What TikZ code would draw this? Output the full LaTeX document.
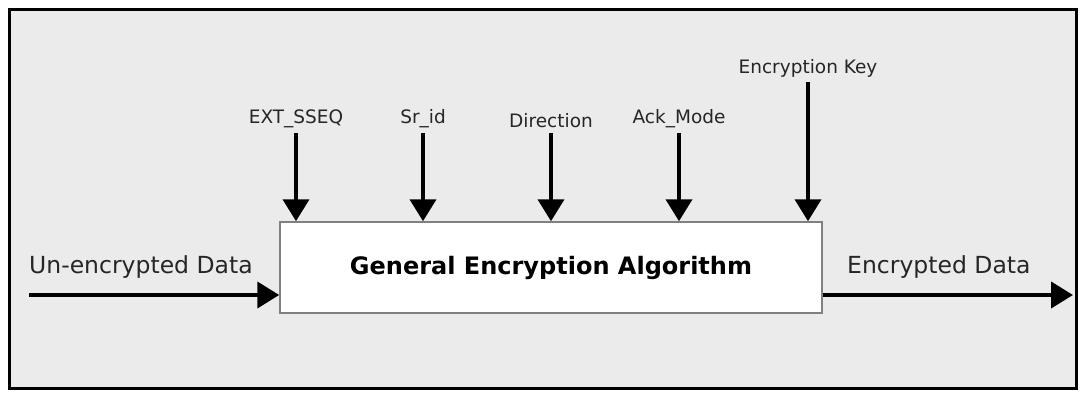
\documentclass[tikz,border=0pt]{standalone}
\usepackage{fontspec}
\setmainfont{DejaVu Sans}
\usetikzlibrary{arrows.meta}
\definecolor{bg}{HTML}{EBEBEB}
\definecolor{boxline}{HTML}{808080}
\begin{document}
\begin{tikzpicture}[x=1pt,y=-1pt,
  lbl/.style={inner sep=0pt,font=\fontsize{18.5}{21}\selectfont,text=black!85},
  side/.style={inner sep=0pt,anchor=west,font=\fontsize{23.5}{27}\selectfont,text=black!85},
  arr/.style={line width=4pt,-{Triangle[length=22pt,width=26pt]}},
  algbox/.style={draw=boxline,line width=1.5pt,fill=white,minimum width=542pt,minimum height=91pt,inner sep=0pt,font=\bfseries\fontsize{24}{28}\selectfont}]
\useasboundingbox (0,0) rectangle (1083,393);
\fill[white] (0,0) rectangle (1083,393);
\draw[line width=3pt,fill=bg] (9,10) rectangle (1076,388);
\node[algbox] (box) at (551,267.5) {General Encryption Algorithm};
\node[lbl] (l1) at (296,119) {EXT\_SSEQ};
\node[lbl] (l2) at (423,119) {Sr\_id};
\node[lbl] (l3) at (551,121) {Direction};
\node[lbl] (l4) at (679,119) {Ack\_Mode};
\node[lbl] (l5) at (808,68) {Encryption Key};
\node[side] (in) at (29,267) {Un-encrypted Data};
\node[side] (out) at (847,267) {Encrypted Data};
\coordinate (s) at (29,295);
\coordinate (e) at (1073,295);
\foreach \n in {l1,l2,l3,l4,l5}{
  \draw[arr] ([yshift=-5pt]\n.south) -- (\n.south |- box.north);
}
\draw[arr] (s) -- (s -| box.west);
\draw[arr] (s -| box.east) -- (e);
\end{tikzpicture}
\end{document}
